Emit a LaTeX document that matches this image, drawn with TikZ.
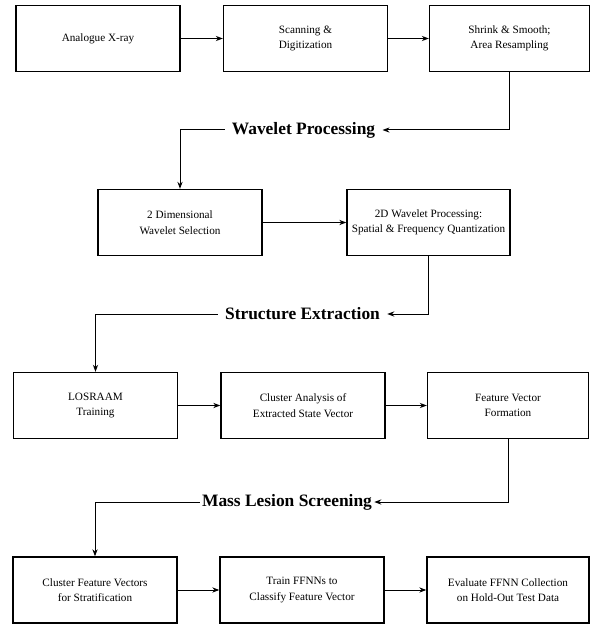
\documentclass[tikz,border=0pt]{standalone}
\usepackage{fontspec}
\setmainfont{Liberation Serif}
\usetikzlibrary{arrows.meta, positioning}

\begin{document}
\begin{tikzpicture}[x=0.5pt, y=-0.5pt,
  stage/.style={draw, line width=0.7pt, minimum width=82pt, minimum height=33pt,
    inner sep=0pt, align=center, font=\fontsize{5.6}{7.7}\selectfont},
  phase/.style={font=\fontsize{8.7}{10}\selectfont\bfseries, inner xsep=3.5pt, inner ysep=1pt},
  flow/.style={-{Stealth[length=3.5pt, width=2.6pt]}, line width=0.5pt}]
  \useasboundingbox (0,0) rectangle (590,625);
  % Acquisition
  \node[stage] (xray) at (98,38.5) {Analogue X-ray};
  \node[stage] (scan) at (305.5,38.5) {Scanning \&\\Digitization};
  \node[stage, minimum width=80pt] (shrink) at (509.5,38.5) {Shrink \& Smooth;\\Area Resampling};
  \node[phase] (wavelet) at (303.5,130) {Wavelet Processing};
  % Wavelets
  \node[stage] (select) at (180,222.5) {2 Dimensional\\Wavelet Selection};
  \node[stage, minimum width=81.5pt] (quant) at (428.5,222.5) {2D Wavelet Processing:\\Spatial \& Frequency Quantization};
  \node[phase] (struct) at (302.5,314) {Structure Extraction};
  % Structure
  \node[stage] (losraam) at (95.5,405.5) {LOSRAAM\\Training};
  \node[stage] (cluster) at (303,405.5) {Cluster Analysis of\\Extracted State Vector};
  \node[stage, minimum width=80.5pt] (feature) at (508,405.5) {Feature Vector\\Formation};
  \node[phase, inner xsep=1pt] (mass) at (287,502) {Mass Lesion Screening};
  % Screening
  \node[stage] (strat) at (95,590) {Cluster Feature Vectors\\for Stratification};
  \node[stage] (train) at (302,590) {Train FFNNs to\\Classify Feature Vector};
  \node[stage, minimum width=81pt] (evaluate) at (508,590) {Evaluate FFNN Collection\\on Hold-Out Test Data};

  \draw[flow] (xray) -- (scan);
  \draw[flow] (scan) -- (shrink);
  \draw[flow] (shrink.south) |- (wavelet.east);
  \draw[flow] (wavelet.west) -| (select.north);
  \draw[flow] (select) -- (quant);
  \draw[flow] (quant.south) |- (struct.east);
  \draw[flow] (struct.west) -| (losraam.north);
  \draw[flow] (losraam) -- (cluster);
  \draw[flow] (cluster) -- (feature);
  \draw[flow] (feature.south) |- (mass.east);
  \draw[flow] (mass.west) -| (strat.north);
  \draw[flow] (strat) -- (train);
  \draw[flow] (train) -- (evaluate);
\end{tikzpicture}
\end{document}
